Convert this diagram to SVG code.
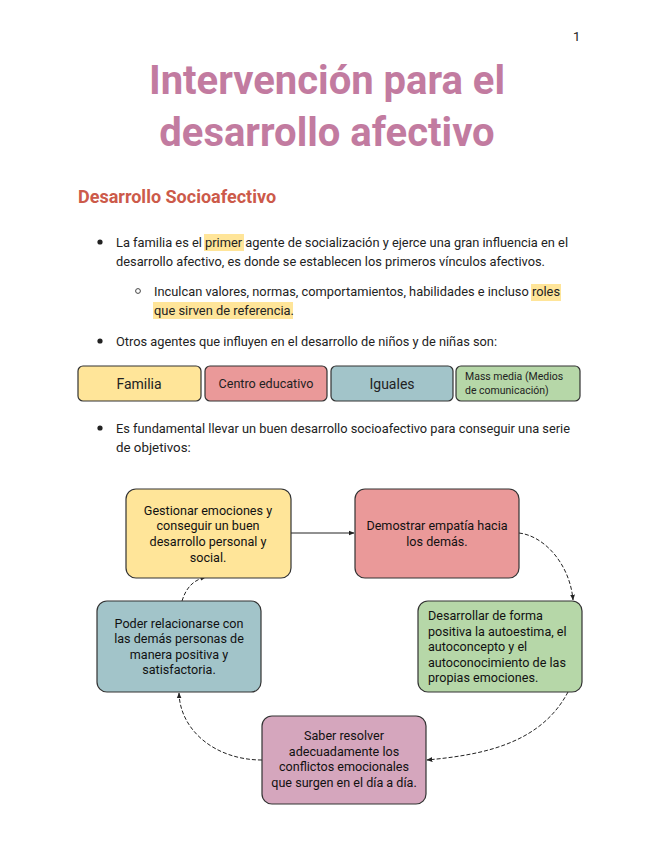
<svg xmlns="http://www.w3.org/2000/svg" width="655" height="848" viewBox="0 0 655 848">
<style>
text{font-family:Roboto,"Liberation Sans",sans-serif;fill:#222}
.b{font-size:13.3px}
.n{font-size:12.6px;fill:#111}
.box{stroke:#333;stroke-width:1.2}
.c{fill:none;stroke:#222;stroke-width:1}
.d{stroke-dasharray:4 2}
</style>
<defs><marker id="a" viewBox="0 0 10 10" refX="9" refY="5" markerWidth="6" markerHeight="6" orient="auto"><path d="M0,1L10,5L0,9z" fill="#222"/></marker></defs>
<rect width="655" height="848" fill="#fff"/>
<text x="573" y="41" font-size="13" fill="#333">1</text>
<text x="327" y="94" text-anchor="middle" font-size="40" font-weight="bold" style="fill:#c27ba0">Intervención para el</text>
<text x="327" y="146" text-anchor="middle" font-size="40" font-weight="bold" style="fill:#c27ba0">desarrollo afectivo</text>
<text x="78" y="203" font-size="18" font-weight="bold" style="fill:#cc5a4a">Desarrollo Socioafectivo</text>
<g>
<rect x="204" y="234" width="40" height="17" fill="#ffe599"/>
<rect x="531" y="284" width="30" height="17" fill="#ffe599"/>
<rect x="153" y="302" width="140" height="17" fill="#ffe599"/>
<circle cx="100" cy="242" r="2.6" fill="#222"/>
<text x="116" y="247" class="b" textLength="452" lengthAdjust="spacingAndGlyphs">La familia es el primer agente de socialización y ejerce una gran influencia en el</text>
<text x="116" y="266" class="b" textLength="429" lengthAdjust="spacingAndGlyphs">desarrollo afectivo, es donde se establecen los primeros vínculos afectivos.</text>
<circle cx="138" cy="291" r="2.4" fill="none" stroke="#444"/>
<text x="154" y="296" class="b" textLength="406" lengthAdjust="spacingAndGlyphs">Inculcan valores, normas, comportamientos, habilidades e incluso roles</text>
<text x="154" y="315" class="b" textLength="140" lengthAdjust="spacingAndGlyphs">que sirven de referencia.</text>
<circle cx="100" cy="341" r="2.6" fill="#222"/>
<text x="116" y="346" class="b" textLength="381" lengthAdjust="spacingAndGlyphs">Otros agentes que influyen en el desarrollo de niños y de niñas son:</text>
<circle cx="100" cy="428" r="2.6" fill="#222"/>
<text x="116" y="433" class="b" textLength="454" lengthAdjust="spacingAndGlyphs">Es fundamental llevar un buen desarrollo socioafectivo para conseguir una serie</text>
<text x="116" y="452" class="b">de objetivos:</text>
</g>
<g id="agentes">
<rect class="box" x="78" y="366" width="123" height="35" rx="5" fill="#ffe599"/>
<text x="139" y="389" text-anchor="middle" font-size="14">Familia</text>
<rect class="box" x="205" y="366" width="122" height="35" rx="5" fill="#ea9999"/>
<text x="266" y="388" text-anchor="middle" font-size="12.6">Centro educativo</text>
<rect class="box" x="331" y="366" width="122" height="35" rx="5" fill="#a2c4c9"/>
<text x="392" y="389" text-anchor="middle" font-size="14">Iguales</text>
<rect class="box" x="456" y="366" width="124" height="35" rx="5" fill="#b6d7a8"/>
<text x="465" y="380" font-size="10.5">Mass media (Medios</text>
<text x="465" y="394" font-size="10.5">de comunicación)</text>
</g>
<g id="connectors">
<path class="c" d="M291,533L354,533" marker-end="url(#a)"/>
<path class="c d" d="M519,533C545,536 570,565 573,600" marker-end="url(#a)"/>
<path class="c d" d="M568,692C540,745 480,755 427,760" marker-end="url(#a)"/>
<path class="c d" d="M262,760C215,760 180,730 179,693" marker-end="url(#a)"/>
<path class="c d" d="M182,601C186,588 193,580 206,577" marker-end="url(#a)"/>
</g>
<g id="n1"><rect class="box" x="126" y="489" width="165" height="89" rx="10" fill="#ffe599"/>
<text class="n" text-anchor="middle" x="208"><tspan x="208" y="515">Gestionar emociones y</tspan><tspan x="208" y="530">conseguir un buen</tspan><tspan x="208" y="546">desarrollo personal y</tspan><tspan x="208" y="562">social.</tspan></text></g>
<g id="n2"><rect class="box" x="355" y="489" width="164" height="89" rx="10" fill="#ea9999"/>
<text class="n" text-anchor="middle"><tspan x="437" y="530">Demostrar empatía hacia</tspan><tspan x="437" y="546">los demás.</tspan></text></g>
<g id="n3"><rect class="box" x="418" y="601" width="164" height="91" rx="10" fill="#b6d7a8"/>
<text class="n"><tspan x="428" y="620">Desarrollar de forma</tspan><tspan x="428" y="636">positiva la autoestima, el</tspan><tspan x="428" y="651">autoconcepto y el</tspan><tspan x="428" y="667">autoconocimiento de las</tspan><tspan x="428" y="682">propias emociones.</tspan></text></g>
<g id="n4"><rect class="box" x="262" y="716" width="164" height="88" rx="10" fill="#d5a6bd"/>
<text class="n" text-anchor="middle"><tspan x="344" y="740">Saber resolver</tspan><tspan x="344" y="756">adecuadamente los</tspan><tspan x="344" y="771">conflictos emocionales</tspan><tspan x="344" y="787">que surgen en el día a día.</tspan></text></g>
<g id="n5"><rect class="box" x="97" y="601" width="164" height="91" rx="10" fill="#a2c4c9"/>
<text class="n" text-anchor="middle"><tspan x="179" y="628">Poder relacionarse con</tspan><tspan x="179" y="643">las demás personas de</tspan><tspan x="179" y="659">manera positiva y</tspan><tspan x="179" y="674">satisfactoria.</tspan></text></g>
</svg>
